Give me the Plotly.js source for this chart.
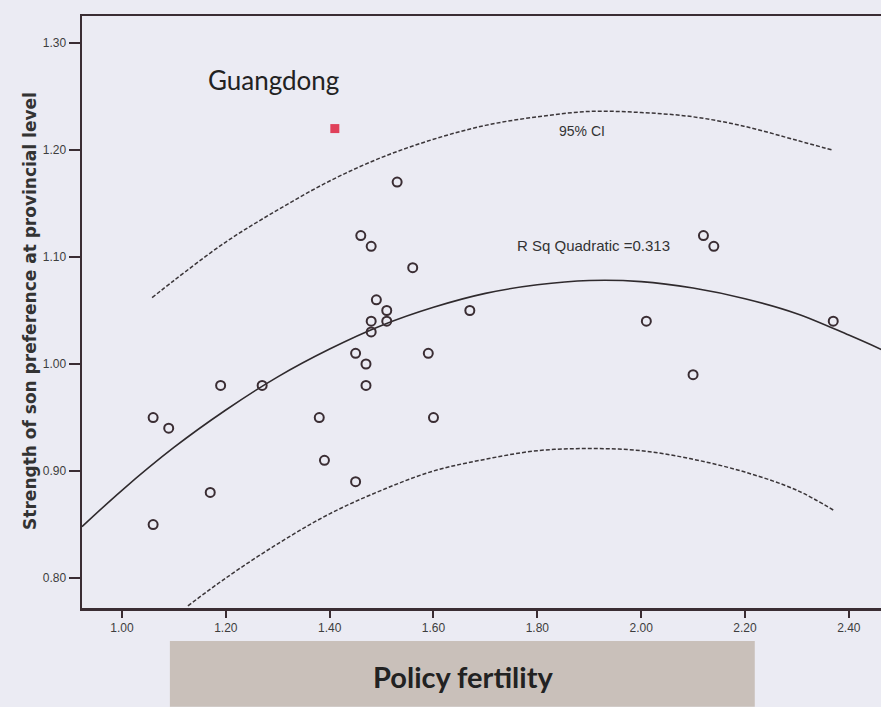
<!DOCTYPE html>
<html>
<head>
<meta charset="utf-8">
<script src="https://cdn.plot.ly/plotly-3.0.1.min.js"></script>
<style>html,body{margin:0;padding:0;background:#ebebf3;}</style>
</head>
<body>
<div id="chart" style="width:881px;height:707px;"></div>
<script>
// Observed provinces
const policyFertility = [1.06,1.09,1.06,1.17,1.19,1.27,1.38,1.39,1.45,1.45,1.47,1.47,1.48,1.48,1.49,1.51,1.51,1.46,1.48,1.53,1.56,1.59,1.60,1.67,2.01,2.10,2.12,2.14,2.37];
const sonPreference   = [0.95,0.94,0.85,0.88,0.98,0.98,0.95,0.91,0.89,1.01,1.00,0.98,1.03,1.04,1.06,1.05,1.04,1.12,1.11,1.17,1.09,1.01,0.95,1.05,1.04,0.99,1.12,1.11,1.04];
// Highlighted province
const guangdongX = [1.41];
const guangdongY = [1.22];
// Quadratic fit line
const fitX = [0.923,1.0,1.1,1.2,1.3,1.4,1.5,1.6,1.7,1.8,1.9,2.0,2.1,2.2,2.3,2.4,2.47];
const fitY = [0.848,0.882,0.922,0.957,0.988,1.014,1.036,1.053,1.066,1.074,1.078,1.077,1.071,1.061,1.047,1.027,1.012];
// Upper 95% CI
const upX = [1.058,1.1,1.2,1.3,1.4,1.5,1.6,1.7,1.8,1.9,2.0,2.1,2.2,2.3,2.368];
const upY = [1.062,1.078,1.114,1.144,1.171,1.193,1.210,1.223,1.231,1.236,1.235,1.231,1.222,1.209,1.200];
// Lower 95% CI
const loX = [1.127,1.2,1.3,1.4,1.5,1.6,1.7,1.8,1.9,2.0,2.1,2.2,2.3,2.372];
const loY = [0.774,0.800,0.832,0.860,0.882,0.900,0.911,0.919,0.921,0.919,0.911,0.899,0.882,0.863];
const xTickVals = [1.0,1.2,1.4,1.6,1.8,2.0,2.2,2.4];
const xTickText = ["1.00","1.20","1.40","1.60","1.80","2.00","2.20","2.40"];
const yTickVals = [0.8,0.9,1.0,1.1,1.2,1.3];
const yTickText = ["0.80","0.90","1.00","1.10","1.20","1.30"];

const ink = '#3a2d33';
const traces = [
  {x: fitX, y: fitY, mode:'lines', line:{color:'#2f2a2d', width:1.6, shape:'spline'}, hoverinfo:'skip'},
  {x: upX, y: upY, mode:'lines', line:{color:'#3a3538', width:1.5, dash:'4px,2px', shape:'spline'}, hoverinfo:'skip'},
  {x: loX, y: loY, mode:'lines', line:{color:'#3a3538', width:1.5, dash:'4px,2px', shape:'spline'}, hoverinfo:'skip'},
  {x: policyFertility, y: sonPreference, mode:'markers', type:'scatter',
   marker:{symbol:'circle-open', size:9, color:ink, line:{width:2, color:ink}}},
  {x: guangdongX, y: guangdongY, mode:'markers', type:'scatter',
   marker:{symbol:'square', size:9, color:'#e0405a'}}
];

const layout = {
  width:881, height:707,
  paper_bgcolor:'#ebebf3', plot_bgcolor:'#ebebf3',
  showlegend:false,
  margin:{l:82, r:0, t:16, b:99},
  xaxis:{range:[0.923,2.462], tickvals:xTickVals, ticktext:xTickText,
    showgrid:false, zeroline:false, showline:true, linecolor:ink, linewidth:2.5, mirror:true,
    ticks:'outside', ticklen:7, tickwidth:2, tickcolor:ink,
    tickfont:{family:'Arial, Liberation Sans, sans-serif', size:12, color:'#3d3d3d'}},
  yaxis:{range:[0.772,1.3252], tickvals:yTickVals, ticktext:yTickText,
    showgrid:false, zeroline:false, showline:true, linecolor:ink, linewidth:2.5,
    ticks:'outside', ticklen:11, tickwidth:2, tickcolor:ink,
    tickfont:{family:'Arial, Liberation Sans, sans-serif', size:12, color:'#3d3d3d'}},
  shapes:[
    {type:'rect', xref:'paper', yref:'paper', x0:0.110, x1:0.842, y0:-0.167, y1:-0.0557,
     fillcolor:'#c9c0ba', line:{width:0}}
  ],
  annotations:[
    {text:'Guangdong', x:1.291, y:1.265, xref:'x', yref:'y', showarrow:false,
     font:{family:'Lato, Open Sans, sans-serif', size:26, color:'#222'}},
    {text:'95% CI', x:1.886, y:1.218, xref:'x', yref:'y', showarrow:false,
     font:{family:'Arial, Liberation Sans, sans-serif', size:14, color:'#333'}},
    {text:'R Sq Quadratic =0.313', x:1.908, y:1.111, xref:'x', yref:'y', showarrow:false,
     font:{family:'Arial, Liberation Sans, sans-serif', size:15, color:'#333'}},
    {text:'<b>Policy fertility</b>', x:0.4768, y:-0.1165, xref:'paper', yref:'paper', showarrow:false,
     yanchor:'middle', font:{family:'Lato, Open Sans, sans-serif', size:29, color:'#222'}},
    {text:'<b>Strength of son preference at provincial level</b>', x:-0.080, y:0.502, xref:'paper', yref:'paper',
     showarrow:false, textangle:-90, font:{family:'DejaVu Sans, Verdana, sans-serif', size:17, color:'#333'}}
  ]
};
Plotly.newPlot('chart', traces, layout, {displayModeBar:false, staticPlot:true});
</script>
</body>
</html>
